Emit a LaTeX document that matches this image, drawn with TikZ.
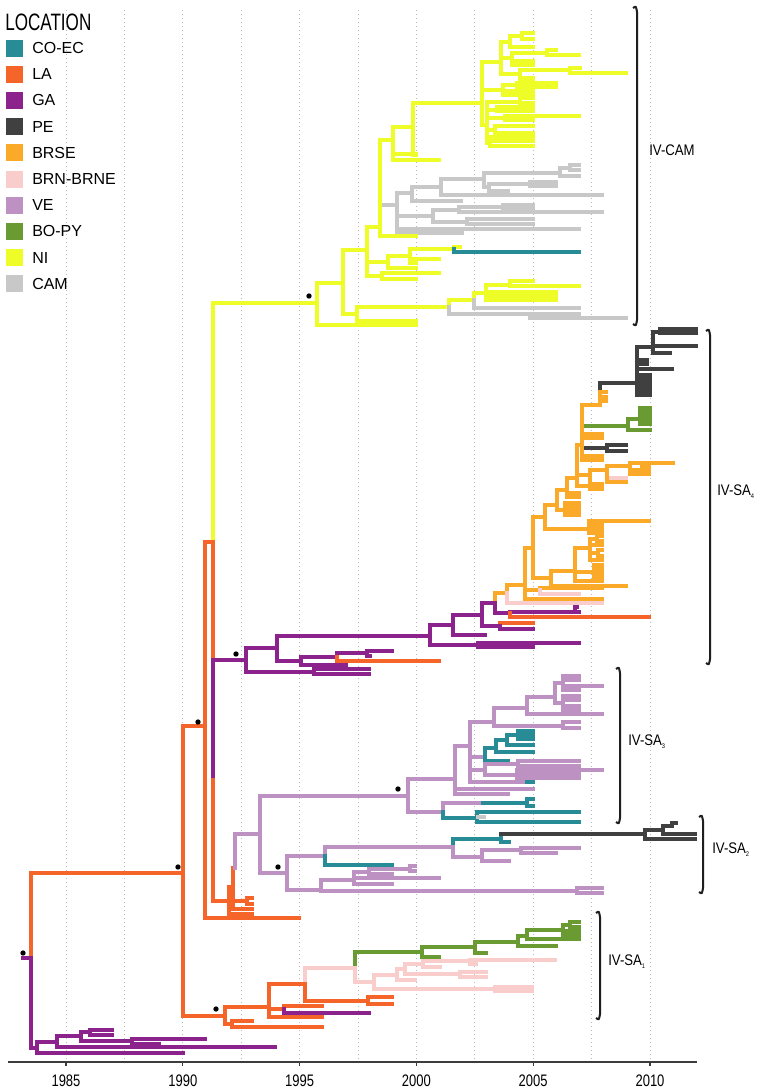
\documentclass[tikz,border=0pt]{standalone}
\usepackage{fontspec}
\setmainfont{Liberation Sans}
\newfontfamily\titlefont[FakeStretch=0.72]{Liberation Sans}
\newfontfamily\axfont[FakeStretch=0.78]{Liberation Sans}
\newfontfamily\lblfont[FakeStretch=0.86]{Liberation Sans}
\definecolor{cCOEC}{RGB}{40,140,150}
\definecolor{cLA}{RGB}{245,100,40}
\definecolor{cGA}{RGB}{140,35,140}
\definecolor{cPE}{RGB}{64,64,64}
\definecolor{cBRSE}{RGB}{250,170,40}
\definecolor{cBRN}{RGB}{250,205,205}
\definecolor{cVE}{RGB}{190,145,195}
\definecolor{cBOPY}{RGB}{105,155,50}
\definecolor{cNI}{RGB}{238,252,40}
\definecolor{cCAM}{RGB}{200,200,200}
\definecolor{cAxis}{RGB}{60,60,60}
\definecolor{cBrk}{RGB}{30,30,30}
\tikzset{
  br/.style={line width=2.3pt, line cap=rect, line join=miter},
  gridline/.style={line width=0.6pt, color=black!28, dash pattern=on 0.8pt off 2.2pt},
  brkline/.style={line width=1.5pt, color=cBrk},
  legtext/.style={anchor=west, inner sep=0pt, font=\fontsize{12}{14}\selectfont},
  axlabel/.style={anchor=center, inner sep=0pt, font=\axfont\fontsize{12.5}{14}\selectfont},
  cladelabel/.style={anchor=west, inner sep=0pt, font=\lblfont\fontsize{11.5}{13}\selectfont},
  sdot/.style={fill=black}
}
\newcommand\tbr[5]{\draw[br,#1] (#2,#3) |- (#4,#5);}
\newcommand\brk[3]{\draw[brkline] (#1-4,#2+1) .. controls (#1-1,#2-1) .. (#1,#2+5) -- (#1,#3-5) .. controls (#1-1,#3+1) .. (#1-4,#3-1);}
\newcommand\sub[1]{\raisebox{-0.35ex}{\fontsize{5}{5}\selectfont #1}}
\begin{document}
\begin{tikzpicture}[x=0.75pt,y=-0.75pt]
\fill[white] (0,0) rectangle (766,1092);
\path[use as bounding box] (0,0) rectangle (766,1092);
% grid
\foreach \k in {0,...,10} { \draw[gridline] ({66+58.4*\k},10) -- ({66+58.4*\k},1061); }
% axis
\draw[line width=1.6pt,cAxis] (8,1062) -- (697,1062);
\foreach \k/\yr in {0/1985,1/1990,2/1995,3/2000,4/2005,5/2010} {
  \draw[line width=0.8pt,cAxis] ({66+116.8*\k},1062) -- ({66+116.8*\k},1066);
  \node[axlabel] (ax\yr) at ({66+116.8*\k},1081) {\yr};
}
% legend
\node[anchor=base west, inner sep=0pt, font=\titlefont\fontsize{17.8}{20}\selectfont] (legtitle) at (5,30) {LOCATION};
\foreach \i/\c/\t in {0/cCOEC/CO-EC,1/cLA/LA,2/cGA/GA,3/cPE/PE,4/cBRSE/BRSE,5/cBRN/BRN-BRNE,6/cVE/VE,7/cBOPY/BO-PY,8/cNI/NI,9/cCAM/CAM} {
  \fill[\c] (6,{48+26.2*\i-8.5}) rectangle (23,{48+26.2*\i+8.5});
  \node[legtext] (leg\i) at (32,{48+26.2*\i}) {\t};
}
% ===== root =====
\draw[br,cGA] (23,958) -- (31,958);
\tbr{cLA}{31}{958}{183}{873}
\tbr{cGA}{31}{958}{37}{1048}
% basal GA
\tbr{cGA}{37}{1048}{57}{1042}
\tbr{cGA}{37}{1048}{183}{1053}
\tbr{cGA}{57}{1042}{81}{1036}
\tbr{cGA}{57}{1042}{275}{1047}
\tbr{cGA}{81}{1036}{90}{1032}
\tbr{cGA}{81}{1036}{132}{1041}
\tbr{cGA}{90}{1032}{112}{1030}
\tbr{cGA}{90}{1032}{112}{1035}
\tbr{cGA}{132}{1041}{205}{1039}
\tbr{cGA}{132}{1041}{159}{1044}
% ===== LA backbone =====
\tbr{cLA}{183}{873}{205}{726}
\tbr{cLA}{183}{873}{225}{1016}
\tbr{cLA}{205}{726}{213}{542}
\tbr{cLA}{205}{726}{299}{918}
\tbr{cNI}{213}{542}{317}{303}
\draw[br,cLA] (213,542) -- (213,660);
\draw[br,cGA] (213,660) -- (213,780);
\draw[br,cGA] (213,660) -- (246,660);
\tbr{cLA}{213}{780}{229}{901}
% small LA cluster
\tbr{cLA}{229}{901}{233}{887}
\tbr{cLA}{229}{901}{252}{914}
\tbr{cLA}{233}{887}{235}{868}
\tbr{cLA}{233}{887}{252}{909}
\tbr{cLA}{233}{887}{247}{901}
\tbr{cLA}{247}{901}{252}{898}
\tbr{cLA}{247}{901}{252}{904}
\tbr{cVE}{235}{868}{260}{834}
% ===== VE =====
\tbr{cVE}{260}{834}{408}{796}
\tbr{cVE}{260}{834}{287}{873}
\tbr{cVE}{408}{796}{455}{779}
\tbr{cVE}{408}{796}{443}{812}
\tbr{cVE}{455}{779}{470}{746}
\tbr{cVE}{455}{779}{533}{789}
\tbr{cVE}{455}{779}{508}{794}
\tbr{cVE}{470}{746}{494}{722}
\tbr{cVE}{470}{746}{485}{757}
\tbr{cVE}{470}{746}{485}{770}
\tbr{cVE}{470}{746}{527}{782}
\draw[br,cCOEC] (527,782) -- (533,782);
\tbr{cVE}{494}{722}{527}{708}
\tbr{cVE}{494}{722}{563}{726}
\tbr{cVE}{563}{726}{579}{722}
\tbr{cVE}{563}{726}{579}{728}
\tbr{cVE}{527}{708}{555}{697}
\tbr{cVE}{527}{708}{602}{714}
\tbr{cVE}{555}{697}{563}{683}
\tbr{cVE}{555}{697}{563}{703}
\tbr{cVE}{563}{683}{579}{676}
\tbr{cVE}{563}{683}{579}{680}
\tbr{cVE}{563}{683}{602}{686}
\tbr{cVE}{563}{683}{579}{690}
\tbr{cVE}{563}{703}{579}{696}
\tbr{cVE}{563}{703}{579}{700}
\tbr{cVE}{563}{703}{579}{706}
\tbr{cVE}{563}{703}{579}{710}
\tbr{cCOEC}{485}{757}{496}{748}
\tbr{cCOEC}{485}{757}{508}{761}
\tbr{cCOEC}{496}{748}{507}{740}
\tbr{cCOEC}{496}{748}{533}{752}
\tbr{cCOEC}{507}{740}{518}{735}
\tbr{cCOEC}{507}{740}{533}{745}
\tbr{cCOEC}{518}{735}{533}{731}
\tbr{cCOEC}{518}{735}{533}{735}
\tbr{cCOEC}{518}{735}{533}{739}
\tbr{cVE}{485}{770}{518}{764}
\tbr{cVE}{485}{770}{517}{775}
\tbr{cVE}{518}{764}{579}{761}
\tbr{cVE}{518}{764}{579}{766}
\tbr{cVE}{517}{775}{602}{770}
\tbr{cVE}{517}{775}{579}{774}
\tbr{cVE}{517}{775}{579}{778}
\tbr{cVE}{443}{812}{483}{803}
\draw[br,cCOEC] (483,803) -- (527,803);
\tbr{cCOEC}{527}{803}{533}{799}
\tbr{cCOEC}{527}{803}{533}{806}
\tbr{cCOEC}{443}{812}{477}{818}
\tbr{cCOEC}{477}{818}{579}{812}
\tbr{cCOEC}{477}{818}{579}{822}
\draw[br,cCAM] (478,817) -- (484,817);
% lower VE + SA2
\tbr{cVE}{287}{873}{325}{856}
\tbr{cVE}{287}{873}{321}{890}
\tbr{cVE}{325}{856}{453}{847}
\tbr{cCOEC}{325}{856}{392}{865}
\tbr{cCOEC}{453}{847}{501}{839}
\tbr{cVE}{453}{847}{482}{857}
\draw[br,cCOEC] (501,839) -- (501,834);
\draw[br,cPE] (501,834) -- (645,834);
\tbr{cCOEC}{501}{839}{509}{842}
\tbr{cPE}{645}{834}{663}{830}
\tbr{cPE}{645}{834}{695}{839}
\tbr{cPE}{663}{830}{672}{826}
\tbr{cPE}{663}{830}{695}{834}
\tbr{cPE}{672}{826}{676}{823}
\tbr{cVE}{482}{857}{521}{850}
\tbr{cVE}{482}{857}{509}{861}
\tbr{cVE}{521}{850}{579}{848}
\tbr{cVE}{521}{850}{556}{853}
\tbr{cVE}{321}{890}{354}{880}
\tbr{cVE}{321}{890}{577}{891}
\tbr{cVE}{577}{891}{602}{888}
\tbr{cVE}{577}{891}{602}{893}
\tbr{cVE}{354}{880}{369}{872}
\tbr{cVE}{354}{880}{439}{878}
\tbr{cVE}{354}{880}{392}{884}
\tbr{cVE}{369}{872}{410}{869}
\tbr{cVE}{369}{872}{392}{874}
\tbr{cVE}{410}{869}{415}{866}
\tbr{cVE}{410}{869}{415}{871}
% ===== SA4 (GA base) =====
\tbr{cGA}{246}{660}{277}{648}
\tbr{cGA}{246}{660}{314}{672}
\tbr{cGA}{314}{672}{369}{669}
\tbr{cGA}{314}{672}{369}{674}
\tbr{cGA}{277}{648}{430}{636}
\tbr{cGA}{277}{648}{301}{661}
\tbr{cGA}{301}{661}{337}{657}
\tbr{cGA}{301}{661}{346}{665}
\tbr{cGA}{337}{657}{367}{653}
\tbr{cLA}{337}{657}{439}{661}
\tbr{cGA}{367}{653}{392}{651}
\tbr{cGA}{367}{653}{370}{656}
\tbr{cGA}{430}{636}{453}{625}
\tbr{cGA}{430}{636}{478}{645}
\tbr{cGA}{478}{645}{579}{643}
\tbr{cGA}{478}{645}{533}{647}
\tbr{cGA}{453}{625}{482}{615}
\tbr{cGA}{453}{625}{485}{635}
\tbr{cGA}{482}{615}{495}{603}
\tbr{cGA}{482}{615}{500}{626}
\tbr{cLA}{500}{626}{533}{623}
\tbr{cGA}{500}{626}{533}{629}
\tbr{cBRSE}{495}{603}{507}{593}
\tbr{cGA}{495}{603}{510}{613}
\tbr{cGA}{510}{613}{579}{612}
\tbr{cGA}{575}{612}{577}{607}
\tbr{cLA}{510}{613}{649}{617}
% BRSE
\tbr{cBRSE}{507}{593}{525}{585}
\tbr{cBRN}{507}{593}{602}{603}
\tbr{cBRSE}{525}{585}{533}{548}
\tbr{cBRSE}{525}{585}{540}{590}
\tbr{cBRSE}{540}{590}{602}{588}
\tbr{cBRN}{540}{590}{579}{594}
\tbr{cBRSE}{525}{585}{602}{599}
\tbr{cBRSE}{533}{548}{545}{517}
\tbr{cBRSE}{533}{548}{551}{578}
\tbr{cBRSE}{551}{578}{575}{571}
\tbr{cBRSE}{551}{578}{626}{586}
\tbr{cBRSE}{575}{571}{590}{548}
\tbr{cBRSE}{575}{571}{594}{572}
\tbr{cBRSE}{575}{571}{602}{581}
\tbr{cBRSE}{590}{548}{597}{539}
\tbr{cBRSE}{597}{539}{602}{536}
\tbr{cBRSE}{597}{539}{602}{541}
\tbr{cBRSE}{590}{548}{602}{545}
\tbr{cBRSE}{590}{548}{598}{553}
\tbr{cBRSE}{598}{553}{602}{550}
\tbr{cBRSE}{598}{553}{602}{556}
\tbr{cBRSE}{590}{548}{602}{560}
\tbr{cBRSE}{594}{572}{602}{565}
\tbr{cBRSE}{594}{572}{602}{569}
\tbr{cBRSE}{594}{572}{602}{573}
\tbr{cBRSE}{594}{572}{602}{577}
\tbr{cBRSE}{545}{517}{557}{505}
\tbr{cBRSE}{545}{517}{589}{529}
\tbr{cBRSE}{589}{529}{649}{521}
\tbr{cBRSE}{589}{529}{602}{525}
\tbr{cBRSE}{589}{529}{602}{529}
\tbr{cBRSE}{589}{529}{602}{533}
\tbr{cBRSE}{557}{505}{567}{490}
\tbr{cBRSE}{557}{505}{565}{510}
\tbr{cBRSE}{565}{510}{579}{503}
\tbr{cBRSE}{565}{510}{579}{507}
\tbr{cBRSE}{565}{510}{579}{511}
\tbr{cBRSE}{565}{510}{579}{515}
\tbr{cBRSE}{567}{490}{577}{478}
\tbr{cBRSE}{567}{490}{579}{493}
\tbr{cBRSE}{567}{490}{579}{497}
\tbr{cBRSE}{577}{478}{590}{475}
\tbr{cBRSE}{577}{478}{602}{486}
\tbr{cBOPY}{577}{478}{582}{445}
% BO-PY
\tbr{cBOPY}{582}{445}{628}{426}
\tbr{cBOPY}{628}{426}{640}{419}
\tbr{cBOPY}{628}{426}{650}{430}
\tbr{cBOPY}{640}{419}{650}{408}
\tbr{cBOPY}{640}{419}{650}{412}
\tbr{cBOPY}{640}{419}{650}{416}
\tbr{cBOPY}{640}{419}{650}{420}
\tbr{cBOPY}{640}{419}{650}{424}
\draw[br,cBRSE] (577,478) -- (577,445) -- (582,445);
% PE (from BRSE)
\tbr{cPE}{600}{405}{637}{383}
\tbr{cBRSE}{582}{445}{600}{405}
\tbr{cBRSE}{600}{405}{606}{392}
\tbr{cBRSE}{600}{405}{606}{397}
\tbr{cBRSE}{600}{405}{606}{401}
\tbr{cBRSE}{582}{445}{602}{434}
\tbr{cBRSE}{582}{445}{602}{438}
\tbr{cPE}{582}{445}{607}{448}
\tbr{cPE}{607}{448}{626}{445}
\tbr{cPE}{607}{448}{626}{451}
\tbr{cBRSE}{582}{445}{602}{456}
\tbr{cBRSE}{582}{445}{602}{460}
\tbr{cBRSE}{590}{475}{607}{470}
\tbr{cBRSE}{590}{475}{602}{484}
\tbr{cBRSE}{590}{475}{602}{489}
\tbr{cBRSE}{607}{470}{630}{466}
\tbr{cBRN}{607}{470}{626}{478}
\tbr{cBRSE}{607}{470}{626}{482}
\tbr{cBRSE}{630}{466}{642}{463}
\tbr{cBRSE}{642}{463}{673}{463}
\tbr{cBRSE}{642}{463}{649}{466}
\tbr{cBRSE}{630}{466}{649}{470}
\tbr{cBRSE}{630}{466}{649}{474}
\tbr{cPE}{637}{383}{653}{347}
\tbr{cPE}{637}{383}{647}{360}
\tbr{cPE}{637}{383}{647}{364}
\tbr{cPE}{637}{383}{672}{369}
\tbr{cPE}{637}{383}{650}{375}
\tbr{cPE}{637}{383}{650}{379}
\tbr{cPE}{637}{383}{650}{383}
\tbr{cPE}{637}{383}{650}{387}
\tbr{cPE}{637}{383}{650}{391}
\tbr{cPE}{637}{383}{650}{395}
\tbr{cPE}{653}{347}{660}{332}
\tbr{cPE}{653}{347}{696}{346}
\tbr{cPE}{653}{347}{670}{353}
\tbr{cPE}{660}{332}{696}{329}
\tbr{cPE}{660}{332}{696}{333}
% ===== NI / CAM =====
\tbr{cNI}{317}{303}{343}{283}
\tbr{cNI}{317}{303}{416}{325}
\tbr{cNI}{343}{283}{367}{250}
\tbr{cNI}{343}{283}{357}{314}
\tbr{cNI}{357}{314}{449}{307}
\tbr{cNI}{357}{314}{416}{321}
\tbr{cNI}{449}{307}{474}{300}
\tbr{cCAM}{449}{307}{579}{314}
\tbr{cCAM}{530}{314}{626}{318}
\tbr{cNI}{474}{300}{486}{293}
\tbr{cCAM}{474}{300}{579}{308}
\tbr{cNI}{486}{293}{510}{285}
\tbr{cNI}{486}{293}{556}{292}
\tbr{cNI}{486}{293}{556}{296}
\tbr{cNI}{486}{293}{556}{300}
\tbr{cNI}{510}{285}{533}{281}
\tbr{cNI}{510}{285}{579}{286}
\tbr{cNI}{367}{250}{380}{227}
\tbr{cNI}{367}{250}{388}{262}
\tbr{cNI}{367}{250}{382}{276}
\tbr{cNI}{382}{276}{439}{273}
\tbr{cNI}{382}{276}{416}{279}
\tbr{cNI}{388}{262}{410}{256}
\tbr{cNI}{388}{262}{416}{268}
\tbr{cNI}{410}{256}{454}{249}
\tbr{cNI}{410}{256}{439}{259}
\tbr{cNI}{410}{256}{416}{263}
\tbr{cNI}{454}{249}{460}{247}
\tbr{cCOEC}{454}{249}{579}{252}
% gray CAM mid cluster
\draw[br,cCAM] (380,205) -- (397,205);
\tbr{cCAM}{397}{205}{412}{193}
\tbr{cCAM}{397}{205}{433}{216}
\tbr{cCAM}{397}{205}{579}{229}
\tbr{cCAM}{397}{205}{462}{233}
\tbr{cCAM}{412}{193}{441}{187}
\tbr{cCAM}{412}{193}{461}{201}
\tbr{cCAM}{441}{187}{484}{179}
\tbr{cCAM}{441}{187}{602}{195}
\tbr{cCAM}{484}{179}{560}{173}
\tbr{cCAM}{484}{179}{489}{187}
\tbr{cCAM}{560}{173}{570}{168}
\tbr{cCAM}{560}{173}{579}{176}
\tbr{cCAM}{570}{168}{579}{165}
\tbr{cCAM}{570}{168}{579}{170}
\tbr{cCAM}{489}{187}{530}{184}
\tbr{cCAM}{489}{187}{508}{191}
\tbr{cCAM}{530}{184}{556}{182}
\tbr{cCAM}{530}{184}{556}{186}
\tbr{cCAM}{433}{216}{459}{210}
\tbr{cCAM}{433}{216}{467}{222}
\tbr{cCAM}{459}{210}{503}{207}
\tbr{cCAM}{459}{210}{602}{212}
\tbr{cCAM}{503}{207}{533}{205}
\tbr{cCAM}{503}{207}{533}{209}
\tbr{cCAM}{467}{222}{533}{219}
\tbr{cCAM}{467}{222}{533}{224}
% NA yellow
\draw[br,cNI] (380,140) -- (380,236);
\tbr{cNI}{380}{227}{393}{140}
\tbr{cNI}{380}{227}{416}{236}
\tbr{cNI}{393}{140}{413}{127}
\tbr{cNI}{393}{140}{439}{160}
\tbr{cNI}{393}{140}{416}{154}
\tbr{cNI}{413}{127}{482}{103}
\tbr{cNI}{413}{127}{416}{155}
% Y1 upper cluster
\tbr{cNI}{482}{103}{501}{62}
\tbr{cNI}{482}{103}{503}{90}
\tbr{cNI}{482}{103}{487}{125}
\tbr{cNI}{501}{62}{510}{42}
\tbr{cNI}{501}{62}{512}{58}
\tbr{cNI}{501}{62}{520}{74}
\tbr{cNI}{510}{42}{522}{36}
\tbr{cNI}{510}{42}{533}{47}
\tbr{cNI}{522}{36}{533}{33}
\tbr{cNI}{522}{36}{533}{39}
\tbr{cNI}{512}{58}{547}{53}
\tbr{cNI}{512}{58}{533}{61}
\tbr{cNI}{512}{58}{533}{65}
\tbr{cNI}{547}{53}{556}{50}
\tbr{cNI}{547}{53}{579}{55}
\tbr{cNI}{520}{74}{570}{70}
\tbr{cNI}{520}{74}{533}{78}
\tbr{cNI}{520}{74}{533}{81}
\tbr{cNI}{570}{70}{580}{68}
\tbr{cNI}{570}{70}{626}{73}
\tbr{cNI}{503}{90}{517}{85}
\tbr{cNI}{503}{90}{533}{91}
\tbr{cNI}{503}{90}{533}{95}
\tbr{cNI}{517}{85}{556}{83}
\tbr{cNI}{517}{85}{556}{87}
\tbr{cNI}{487}{125}{520}{102}
\tbr{cNI}{520}{102}{533}{98}
\tbr{cNI}{520}{102}{533}{103}
\tbr{cNI}{487}{125}{497}{110}
\tbr{cNI}{497}{110}{533}{107}
\tbr{cNI}{497}{110}{533}{111}
\tbr{cNI}{487}{125}{505}{118}
\tbr{cNI}{505}{118}{579}{116}
\tbr{cNI}{505}{118}{533}{120}
\tbr{cNI}{487}{125}{495}{130}
\tbr{cNI}{495}{130}{533}{126}
\tbr{cNI}{495}{130}{533}{133}
\tbr{cNI}{487}{125}{533}{137}
\tbr{cNI}{487}{125}{490}{143}
\tbr{cNI}{490}{143}{533}{141}
\tbr{cNI}{490}{143}{533}{146}
% ===== SA1 =====
\tbr{cLA}{225}{1016}{269}{1007}
\tbr{cLA}{225}{1016}{232}{1024}
\tbr{cLA}{232}{1024}{252}{1021}
\tbr{cLA}{232}{1024}{322}{1027}
\tbr{cLA}{269}{1007}{305}{984}
\tbr{cLA}{269}{1007}{284}{1009}
\tbr{cLA}{269}{1007}{322}{1017}
\tbr{cLA}{284}{1009}{322}{1006}
\tbr{cGA}{284}{1009}{369}{1013}
\tbr{cBRN}{305}{984}{355}{968}
\tbr{cLA}{305}{984}{368}{1001}
\tbr{cLA}{368}{1001}{392}{997}
\tbr{cLA}{368}{1001}{392}{1004}
\tbr{cBOPY}{355}{968}{422}{952}
\tbr{cBRN}{355}{968}{374}{982}
\tbr{cBOPY}{422}{952}{475}{947}
\tbr{cBOPY}{422}{952}{439}{957}
\tbr{cBOPY}{475}{947}{518}{942}
\tbr{cBOPY}{475}{947}{486}{953}
\tbr{cBOPY}{518}{942}{527}{936}
\tbr{cBOPY}{518}{942}{556}{946}
\tbr{cBOPY}{527}{936}{563}{930}
\tbr{cBOPY}{527}{936}{579}{939}
\tbr{cBOPY}{563}{930}{570}{925}
\tbr{cBOPY}{563}{930}{579}{931}
\tbr{cBOPY}{563}{930}{579}{935}
\tbr{cBOPY}{570}{925}{579}{922}
\tbr{cBOPY}{570}{925}{579}{927}
\tbr{cBRN}{374}{982}{397}{975}
\tbr{cBRN}{374}{982}{495}{989}
\tbr{cBRN}{495}{989}{532}{987}
\tbr{cBRN}{495}{989}{532}{991}
\tbr{cBRN}{397}{975}{405}{969}
\tbr{cBRN}{397}{975}{415}{980}
\tbr{cBRN}{405}{969}{423}{964}
\tbr{cBRN}{405}{969}{460}{974}
\tbr{cBRN}{423}{964}{470}{961}
\tbr{cBRN}{423}{964}{440}{967}
\tbr{cBRN}{470}{961}{555}{960}
\tbr{cBRN}{470}{961}{476}{964}
\tbr{cBRN}{460}{974}{486}{972}
\tbr{cBRN}{460}{974}{486}{977}
% ===== support dots =====
\foreach \p in {(23,953),(178,867),(198,722),(236,654),(309,296),(398,789),(278,867),(216,1009)} { \fill[sdot] \p circle[radius=2pt]; }
% ===== brackets =====
\brk{637}{7}{325}
\brk{710}{330}{664}
\brk{620}{668}{823}
\brk{703}{816}{893}
\brk{600}{912}{1019}
\node[cladelabel] (lcam) at (649,150) {IV-CAM};
\node[cladelabel] (lsa4) at (717,492) {IV-SA\sub{4}};
\node[cladelabel] (lsa3) at (628,742) {IV-SA\sub{3}};
\node[cladelabel] (lsa2) at (712,850) {IV-SA\sub{2}};
\node[cladelabel] (lsa1) at (608,962) {IV-SA\sub{1}};
\end{tikzpicture}
\end{document}
